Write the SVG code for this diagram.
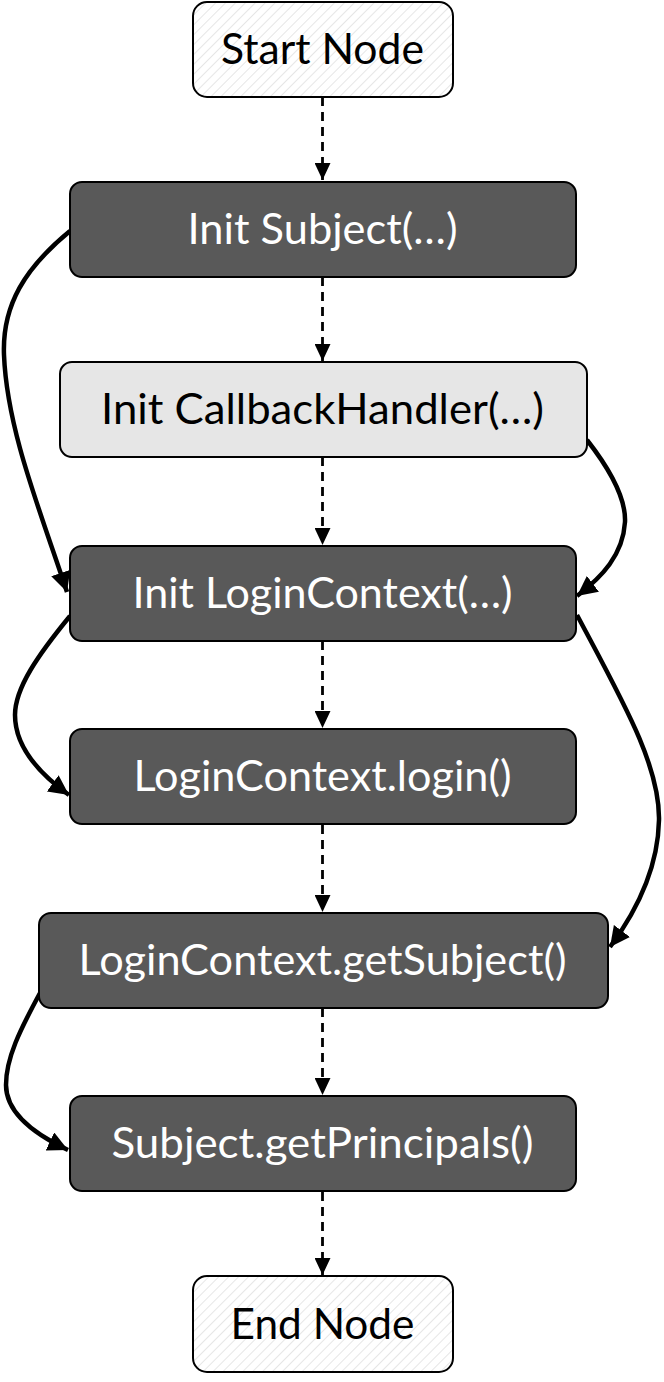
<svg xmlns="http://www.w3.org/2000/svg" width="664" height="1382" viewBox="0 0 664 1382">
  <defs>
    <style>
      .node-dark { fill: #595959; stroke: #000; stroke-width: 2; }
      .node-light { fill: #e6e6e6; stroke: #000; stroke-width: 2; }
      .node-term { fill: url(#hatch); stroke: #000; stroke-width: 2; }
      .lbl { font-family: Lato, "Open Sans", "Liberation Sans", sans-serif; font-size: 43px; text-anchor: middle; }
      .lbl-w { fill: #fff; }
      .lbl-b { fill: #000; }
      .seq { fill: none; stroke: #000; stroke-width: 2.8; stroke-dasharray: 9 6; }
      .flow { fill: none; stroke: #000; stroke-width: 4.5; }
    </style>
    <pattern id="hatch" patternUnits="userSpaceOnUse" width="7" height="7" patternTransform="rotate(45)">
      <rect width="7" height="7" fill="#fff"/>
      <line x1="0" y1="0" x2="0" y2="7" stroke="#e6e6e6" stroke-width="2"/>
    </pattern>
    <marker id="ah" markerUnits="userSpaceOnUse" markerWidth="18" markerHeight="16" refX="17" refY="8" orient="auto">
      <path d="M0,0 L17,8 L0,16 Z" fill="#000"/>
    </marker>
    <marker id="ah2" markerUnits="userSpaceOnUse" markerWidth="22" markerHeight="20" refX="20" refY="10" orient="auto">
      <path d="M0,0 L20,10 L0,20 Z" fill="#000"/>
    </marker>
  </defs>

  <g id="connectors">
    <path class="seq" d="M322.5,97 L322.5,180" marker-end="url(#ah)"/>
    <path class="seq" d="M322.5,277 L322.5,361" marker-end="url(#ah)"/>
    <path class="seq" d="M322.5,457 L322.5,545" marker-end="url(#ah)"/>
    <path class="seq" d="M322.5,641 L322.5,728" marker-end="url(#ah)"/>
    <path class="seq" d="M322.5,825 L322.5,912" marker-end="url(#ah)"/>
    <path class="seq" d="M322.5,1008 L322.5,1095" marker-end="url(#ah)"/>
    <path class="seq" d="M322.5,1192 L322.5,1275" marker-end="url(#ah)"/>

    <path class="flow" d="M70,231 C25,268 2,305 4,355 C7,430 40,510 67,592" marker-end="url(#ah2)"/>
    <path class="flow" d="M587,440 C612,472 626,500 625,522 C623,555 602,577 577,596" marker-end="url(#ah2)"/>
    <path class="flow" d="M70,616 C38,655 15,688 15,715 C15,745 37,772 69,795" marker-end="url(#ah2)"/>
    <path class="flow" d="M577,615 C622,700 660,765 659,820 C658,870 636,912 610,947" marker-end="url(#ah2)"/>
    <path class="flow" d="M40,993 C20,1030 6,1058 6,1085 C6,1112 32,1133 68,1150" marker-end="url(#ah2)"/>
  </g>

  <g id="start-node">
    <rect class="node-term" x="193" y="2" width="260" height="95" rx="14"/>
    <text class="lbl lbl-b" x="322.5" y="64" textLength="203" lengthAdjust="spacingAndGlyphs">Start Node</text>
  </g>
  <g id="init-subject">
    <rect class="node-dark" x="70" y="182" width="506" height="95" rx="12"/>
    <text class="lbl lbl-w" x="322.5" y="244" textLength="270" lengthAdjust="spacingAndGlyphs">Init Subject(…)</text>
  </g>
  <g id="init-callbackhandler">
    <rect class="node-light" x="60" y="362" width="527" height="95" rx="12"/>
    <text class="lbl lbl-b" x="322.5" y="424" textLength="443" lengthAdjust="spacingAndGlyphs">Init CallbackHandler(…)</text>
  </g>
  <g id="init-logincontext">
    <rect class="node-dark" x="70" y="546" width="506" height="95" rx="12"/>
    <text class="lbl lbl-w" x="322.5" y="608" textLength="380" lengthAdjust="spacingAndGlyphs">Init LoginContext(…)</text>
  </g>
  <g id="logincontext-login">
    <rect class="node-dark" x="70" y="729" width="506" height="95" rx="12"/>
    <text class="lbl lbl-w" x="322.5" y="791" textLength="378" lengthAdjust="spacingAndGlyphs">LoginContext.login()</text>
  </g>
  <g id="logincontext-getsubject">
    <rect class="node-dark" x="39" y="913" width="569" height="95" rx="12"/>
    <text class="lbl lbl-w" x="322.5" y="975" textLength="488" lengthAdjust="spacingAndGlyphs">LoginContext.getSubject()</text>
  </g>
  <g id="subject-getprincipals">
    <rect class="node-dark" x="70" y="1096" width="506" height="95" rx="12"/>
    <text class="lbl lbl-w" x="322.5" y="1158" textLength="422" lengthAdjust="spacingAndGlyphs">Subject.getPrincipals()</text>
  </g>
  <g id="end-node">
    <rect class="node-term" x="193" y="1276" width="260" height="96" rx="14"/>
    <text class="lbl lbl-b" x="322.5" y="1339" textLength="184" lengthAdjust="spacingAndGlyphs">End Node</text>
  </g>
</svg>
